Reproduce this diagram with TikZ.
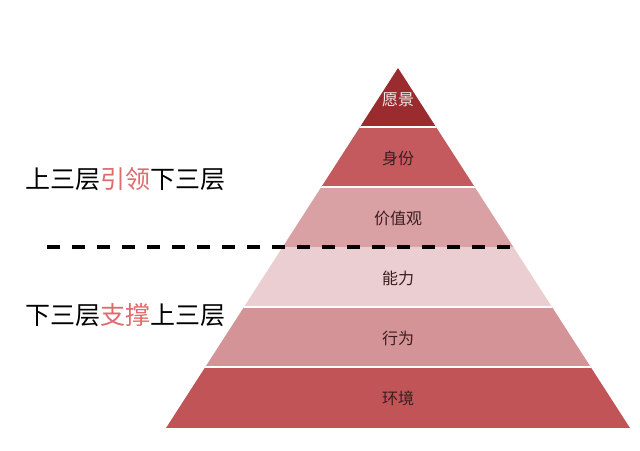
\documentclass[tikz,border=0pt]{standalone}
\usepackage{fontspec}
\setmainfont{Noto Sans CJK SC}
\definecolor{cA}{HTML}{9A2B2F}
\definecolor{cB}{HTML}{C55A5E}
\definecolor{cC}{HTML}{D9A1A4}
\definecolor{cD}{HTML}{EBCED1}
\definecolor{cE}{HTML}{D49497}
\definecolor{cF}{HTML}{C15457}
\definecolor{hl}{HTML}{E06A6C}
\definecolor{lbl}{HTML}{3A1E1E}
\begin{document}
\begin{tikzpicture}[x=1pt,y=-1pt,
  lay/.style={font=\fontsize{16}{16}\selectfont, text=lbl, inner sep=0pt},
  side/.style={font=\fontsize{25}{25}\selectfont, anchor=west, inner sep=0pt},
  sep/.style={white, line width=2pt}]
\useasboundingbox (0,0) rectangle (640,450);
\fill[white] (0,0) rectangle (640,450);
\begin{scope}
\clip (398,68) -- (630,428) -- (166,428) -- cycle;
\fill[cA] (0,60) rectangle (640,127);
\fill[cB] (0,127) rectangle (640,187);
\fill[cC] (0,187) rectangle (640,247);
\fill[cD] (0,247) rectangle (640,307);
\fill[cE] (0,307) rectangle (640,367);
\fill[cF] (0,367) rectangle (640,428);
\draw[sep] (0,127) -- (640,127);
\draw[sep] (0,187) -- (640,187);
\draw[sep] (0,307) -- (640,307);
\draw[sep] (0,367) -- (640,367);
\end{scope}
\node[lay, text=white!90!cA] (l1) at (398,100) {愿景};
\node[lay] (l2) at (398,158) {身份};
\node[lay] (l3) at (398,218) {价值观};
\node[lay] (l4) at (398,278) {能力};
\node[lay] (l5) at (398,338) {行为};
\node[lay] (l6) at (398,398) {环境};
\coordinate (dL) at (47,247);
\coordinate (dR) at (521,247);
\draw[black, line width=4pt, dash pattern=on 13pt off 12pt] (dL) -- (dR);
\node[side] (t1) at (25,179) {上三层\textcolor{hl}{引领}下三层};
\node[side] (t2) at (25,315) {下三层\textcolor{hl}{支撑}上三层};
\end{tikzpicture}
\end{document}
